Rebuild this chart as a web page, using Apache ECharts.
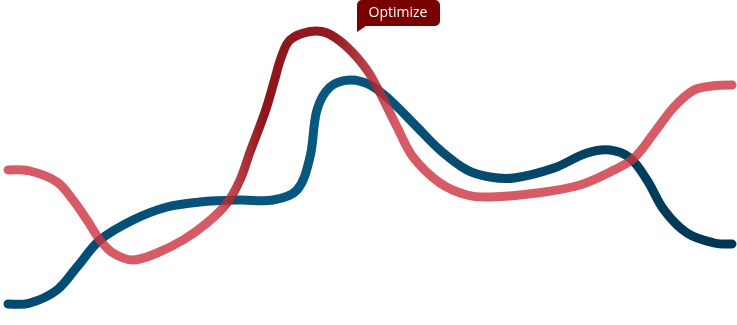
<!DOCTYPE html>
<html>
<head>
<meta charset="utf-8">
<script src="https://cdn.jsdelivr.net/npm/echarts@6/dist/echarts.min.js"></script>
<style>
html,body{margin:0;padding:0;background:#fff;}
#c{width:737px;height:325px;}
</style>
</head>
<body>
<div id="c"></div>
<script>
const redX = [0,22,49,65,79,92,105,125,149,175,199,219,232,242,257,266,273,282,302,319,339,359,372,389,405,432,459,482,529,572,606,626,646,666,686,704,724];
const redY = [155,154,143,125,105,85,72,65,72,85,102,122,145,173,213,243,267,285,293.5,292,278,255,232,198,168,142,130,128,132,140,155,167,192,218,235,239,240];
const blueX = [0,22,49,69,92,125,159,192,232,265,289,302,309,322,342,362,382,409,432,459,482,506,546,579,602,622,639,656,679,706,724];
const blueY = [21,22,35,58,85,105,118,123,125,125,135,168,215,238,245,240,225,198,175,155,148,147,157,172,175,167,145,115,92,82,81];
const labelText = "Optimize";

function curveSeries(name, xs, ys, stroke, z) {
  return {
    name: name,
    type: 'custom',
    coordinateSystem: 'cartesian2d',
    z: z,
    silent: true,
    clip: false,
    data: xs.map((x, i) => [x, ys[i]]),
    encode: {x: 0, y: 1},
    renderItem: function (params, api) {
      if (params.dataIndex !== 0) return null;
      const pts = xs.map((x, i) => api.coord([x, ys[i]]));
      return {
        type: 'polyline',
        shape: {points: pts, smooth: 0.35},
        style: {fill: null, stroke: stroke, lineWidth: 9, lineCap: 'round', lineJoin: 'round'}
      };
    }
  };
}

const blueStroke = new echarts.graphic.LinearGradient(0, 0, 1, 0, [
  {offset: 0, color: '#004a72'},
  {offset: 0.43, color: '#07587f'},
  {offset: 0.75, color: '#034566'},
  {offset: 1, color: '#003552'}
]);
const redStroke = new echarts.graphic.LinearGradient(0, 0, 1, 0, [
  {offset: 0, color: 'rgba(204,50,64,0.8)'},
  {offset: 0.29, color: 'rgba(204,50,64,0.8)'},
  {offset: 0.355, color: 'rgba(135,8,14,0.95)'},
  {offset: 0.45, color: 'rgba(135,8,14,0.92)'},
  {offset: 0.535, color: 'rgba(204,50,64,0.8)'},
  {offset: 1, color: 'rgba(204,50,64,0.8)'}
]);

const chart = echarts.init(document.getElementById('c'), null, {renderer: 'canvas'});
chart.setOption({
  animation: false,
  grid: {left: 8, right: 5, top: 0, bottom: 0},
  xAxis: {type: 'value', min: 0, max: 724, show: false},
  yAxis: {type: 'value', min: 0, max: 325, show: false},
  series: [
    curveSeries('blue', blueX, blueY, blueStroke, 2),
    curveSeries('red', redX, redY, redStroke, 3)
  ],
  graphic: [
    {
      type: 'group',
      z: 10,
      children: [
        {type: 'rect', shape: {x: 357, y: 0, width: 83, height: 26, r: [5, 5, 5, 0]}, style: {fill: '#780000'}},
        {type: 'polygon', shape: {points: [[357, 24], [357, 32], [366, 26]]}, style: {fill: '#780000'}},
        {type: 'text', x: 398, y: 13, style: {text: labelText, fill: '#ffffff', font: '500 14px "Open Sans", sans-serif', align: 'center', verticalAlign: 'middle'}}
      ]
    }
  ]
});
</script>
</body>
</html>
